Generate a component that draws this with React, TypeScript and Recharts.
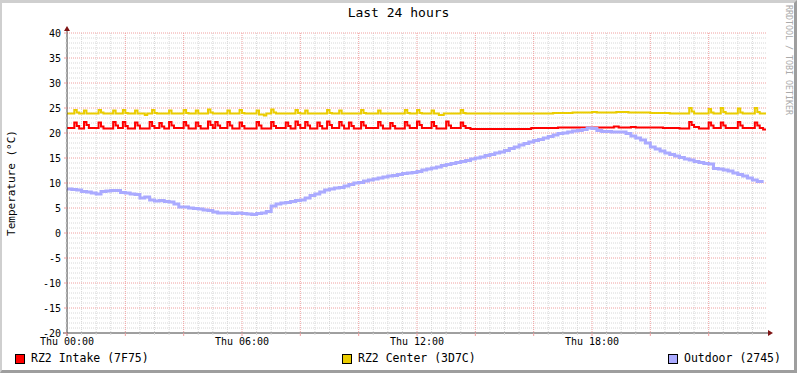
import React from 'react'
import { LineChart, Line, XAxis, YAxis, CartesianGrid, ReferenceDot } from 'recharts'

// time axis in minutes since Thu 00:00
const xLabelTicks = [0, 360, 720, 1080]
const xLabels = ['Thu 00:00', 'Thu 06:00', 'Thu 12:00', 'Thu 18:00']
const yLabelTicks = [-20, -15, -10, -5, 0, 5, 10, 15, 20, 25, 30, 35, 40]

// RZ2 Intake (7F75): [minute, °C] change points
const intakeSteps: [number, number][] = [
  [0, 21.0], [15, 22.1], [20, 21.4], [25, 20.9],
  [35, 22.2], [40, 21.6], [45, 21.0],
  [65, 22.1], [70, 21.3], [75, 20.9],
  [95, 22.2], [100, 21.5], [105, 21.0],
  [115, 22.2], [120, 21.4], [125, 20.9],
  [140, 22.1], [145, 21.5], [150, 20.9],
  [170, 22.2], [175, 21.4], [180, 21.0],
  [190, 22.0], [195, 21.3], [200, 20.9],
  [210, 22.2], [215, 21.5], [220, 21.0],
  [240, 22.2], [245, 21.5], [250, 20.9],
  [265, 22.1], [270, 21.4], [275, 20.9],
  [290, 22.3], [295, 21.6], [300, 21.0],
  [305, 22.2], [310, 21.5], [315, 21.0],
  [330, 22.2], [335, 21.5], [340, 20.9],
  [355, 22.1], [360, 21.4], [365, 20.9],
  [390, 22.2], [395, 21.5], [400, 20.9],
  [420, 22.2], [425, 21.4], [430, 21.0],
  [450, 22.1], [455, 21.4], [460, 20.9],
  [470, 22.3], [475, 21.6], [480, 21.0],
  [490, 22.2], [495, 21.5], [500, 20.9],
  [515, 22.1], [520, 21.4], [525, 20.9],
  [535, 22.3], [540, 21.6], [545, 21.0],
  [560, 22.2], [565, 21.5], [570, 20.9],
  [580, 22.1], [585, 21.4], [590, 20.9],
  [605, 22.2], [610, 21.5], [615, 21.0],
  [640, 22.2], [645, 21.5], [650, 20.9],
  [665, 22.0], [670, 21.4], [675, 20.9],
  [695, 22.2], [700, 21.5], [705, 21.0],
  [720, 22.3], [725, 21.6], [730, 21.0],
  [750, 22.2], [755, 21.4], [760, 20.9],
  [780, 22.3], [785, 21.5], [790, 21.0],
  [810, 22.1], [815, 21.4], [820, 21.0], [830, 20.8],
  [955, 21.0], [1010, 21.1], [1125, 21.3], [1135, 21.1], [1160, 21.2], [1170, 21.1],
  [1226, 21.0], [1260, 20.9],
  [1280, 22.2], [1285, 21.6], [1290, 21.2], [1300, 20.9],
  [1320, 22.1], [1325, 21.5], [1330, 21.0],
  [1345, 22.1], [1350, 21.5], [1355, 21.0],
  [1380, 22.2], [1385, 21.5], [1390, 21.0],
  [1415, 22.1], [1420, 21.5], [1425, 21.0], [1432, 20.7], [1438, 20.7],
]

// RZ2 Center (3D7C)
const centerSteps: [number, number][] = [
  [0, 23.9], [15, 24.6], [20, 24.1], [25, 23.9],
  [35, 24.5], [40, 23.9],
  [65, 24.6], [70, 24.1], [75, 23.9],
  [95, 24.5], [100, 23.9],
  [115, 24.6], [120, 24.0], [125, 23.9],
  [140, 24.5], [145, 23.9], [160, 23.6], [165, 23.9],
  [175, 24.6], [180, 24.0], [185, 23.9],
  [210, 24.5], [215, 23.9],
  [240, 24.6], [245, 24.0], [250, 23.9],
  [265, 24.5], [270, 23.9],
  [290, 24.7], [295, 24.1], [300, 23.9],
  [330, 24.5], [335, 23.9],
  [355, 24.6], [360, 24.0], [365, 23.9],
  [390, 24.5], [395, 23.7], [405, 23.5], [410, 23.9],
  [420, 24.7], [425, 24.1], [430, 23.9],
  [470, 24.6], [475, 24.0], [480, 23.9],
  [490, 24.5], [495, 23.9],
  [535, 24.6], [540, 24.0], [545, 23.9],
  [560, 24.5], [565, 23.9],
  [605, 24.6], [610, 24.0], [615, 23.9],
  [640, 24.5], [645, 23.9],
  [695, 24.6], [700, 24.0], [705, 23.9],
  [720, 24.6], [725, 24.0], [730, 23.9],
  [750, 24.5], [755, 23.9],
  [765, 23.6], [775, 23.9],
  [810, 24.6], [815, 24.0], [820, 23.9],
  [1000, 24.0], [1040, 24.1], [1080, 24.2], [1090, 24.1], [1130, 24.2], [1155, 24.1],
  [1200, 24.0], [1240, 23.9],
  [1280, 25.0], [1285, 24.3], [1290, 23.9],
  [1320, 24.8], [1325, 24.1], [1330, 23.9],
  [1345, 25.0], [1350, 24.2], [1355, 23.9],
  [1380, 24.9], [1385, 24.1], [1390, 23.9],
  [1415, 25.0], [1420, 24.2], [1425, 23.9], [1438, 23.9],
]

// Outdoor (2745), one reading every 10 minutes from 00:00
const outdoorVals = [
  8.8, 8.7, 8.6, 8.3, 8.2, 8.0, 7.8, 8.3, 8.4, 8.5,
  8.5, 8.1, 8.0, 7.8, 7.7, 7.0, 7.2, 6.6, 6.4, 6.5,
  6.3, 6.2, 5.8, 5.2, 5.2, 5.0, 4.9, 4.8, 4.6, 4.5,
  4.2, 4.0, 4.0, 4.0, 3.9, 4.0, 3.9, 3.8, 3.7, 3.9,
  4.0, 4.3, 5.4, 5.8, 6.0, 6.1, 6.3, 6.5, 6.6, 7.0,
  7.5, 7.8, 8.2, 8.6, 8.8, 9.0, 9.1, 9.4, 9.7, 10.0,
  10.1, 10.4, 10.6, 10.8, 11.0, 11.2, 11.4, 11.5, 11.7, 11.9,
  12.0, 12.1, 12.3, 12.6, 12.8, 13.0, 13.2, 13.5, 13.7, 13.9,
  14.1, 14.3, 14.5, 14.8, 15.0, 15.2, 15.5, 15.7, 16.0, 16.2,
  16.5, 16.9, 17.2, 17.6, 17.9, 18.2, 18.5, 18.7, 19.0, 19.3,
  19.6, 19.9, 20.0, 20.2, 20.4, 20.5, 20.7, 21.0, 20.9, 20.5,
  20.3, 20.3, 20.2, 20.2, 20.2, 19.9, 19.4, 19.0, 18.6, 18.0,
  17.2, 16.8, 16.4, 16.0, 15.7, 15.4, 15.1, 14.8, 14.6, 14.3,
  14.1, 13.9, 13.8, 12.9, 12.8, 12.6, 12.4, 12.0, 11.7, 11.4,
  11.0, 10.6, 10.3, 10.0,
]

const series = [
  { name: 'RZ2 Intake (7F75)', color: '#FF0000' },
  { name: 'RZ2 Center (3D7C)', color: '#EACC00' },
  { name: 'Outdoor (2745)', color: '#AAAAFF' },
]

const intakeData = intakeSteps.map(([t, v]) => ({ t, v }))
const centerData = centerSteps.map(([t, v]) => ({ t, v }))
const outdoorData = outdoorVals.map((v, i) => ({ t: i * 10, v }))

// grid: minor every 30 min / 1 °C, major every 2 h / 5 °C
const xMinor: number[] = []
const xMajor: number[] = []
for (let m = 30; m < 1440; m += 30) (m % 120 === 0 ? xMajor : xMinor).push(m)
const yMinor: number[] = []
const yMajor: number[] = []
for (let d = -19; d <= 40; d++) (d % 5 === 0 ? yMajor : yMinor).push(d)
const xAxisTicks = [0, ...xMinor, ...xMajor].sort((a, b) => a - b)
const yAxisTicks: number[] = []
for (let d = -20; d <= 40; d++) yAxisTicks.push(d)

const FONT = '"DejaVu Sans Mono", monospace'
const AXIS = '#404040'
const ARROW = '#7f1414'
const MINOR = '#d8d8d8'
const MAJOR = '#f0a0a0'

// recharts 3 may hand the grid generator either a d3 scale or a wrapper with .map
const scaleOf = (axis: any) => (v: number) => {
  const s = axis?.scale
  if (typeof s === 'function') return s(v)
  if (s && typeof s.map === 'function') return s.map(v)
  if (s && typeof s.scale === 'function') return s.scale(v)
  return NaN
}

const XTick = (p: any) => {
  const v = p.payload.value
  const idx = xLabelTicks.indexOf(v)
  const major = v % 120 === 0
  return (
    <g>
      <line x1={p.x} x2={p.x} y1={p.y} y2={p.y + (major ? 3 : 2)} stroke={major ? MAJOR : MINOR} />
      {idx >= 0 && (
        <text x={p.x} y={p.y + 12} textAnchor="middle" fontSize={10} fontFamily={FONT} fill="#000">
          {xLabels[idx]}
        </text>
      )}
    </g>
  )
}

const YTick = (p: any) => {
  const v = p.payload.value
  const major = yLabelTicks.includes(v)
  return (
    <g>
      <line x1={p.x - (major ? 3 : 2)} x2={p.x} y1={p.y} y2={p.y} stroke={major ? MAJOR : MINOR} />
      {major && (
        <text x={p.x - 6} y={p.y} dy="0.35em" textAnchor="end" fontSize={10} fontFamily={FONT} fill="#000">
          {v}
        </text>
      )}
    </g>
  )
}

const UpArrow = (p: any) => (
  <g>
    <line x1={p.cx} x2={p.cx} y1={p.cy} y2={p.cy - 2} stroke={AXIS} />
    <polygon points={`${p.cx - 3},${p.cy - 2} ${p.cx + 3},${p.cy - 2} ${p.cx},${p.cy - 7}`} fill={ARROW} />
  </g>
)

const RightArrow = (p: any) => (
  <g>
    <line x1={p.cx} x2={p.cx + 1} y1={p.cy} y2={p.cy} stroke={AXIS} />
    <polygon points={`${p.cx + 1},${p.cy - 3} ${p.cx + 1},${p.cy + 3} ${p.cx + 6},${p.cy}`} fill={ARROW} />
  </g>
)

const Corner = (p: any) => (
  <g>
    <line x1={p.cx - 4} x2={p.cx} y1={p.cy} y2={p.cy} stroke={AXIS} />
    <line x1={p.cx} x2={p.cx} y1={p.cy} y2={p.cy + 3} stroke={AXIS} />
  </g>
)

export default function App() {
  return (
    <div style={{ position: 'absolute', left: 0, top: 0, width: 797, height: 373, background: '#fff', fontFamily: FONT }}>
      <LineChart width={797} height={373} margin={{ top: 33, right: 30, bottom: 0, left: 0 }}>
        <CartesianGrid
          stroke={MINOR}
          strokeDasharray="1 1"
          horizontalCoordinatesGenerator={({ yAxis }: any) => yMinor.map(scaleOf(yAxis))}
          verticalCoordinatesGenerator={({ xAxis }: any) => xMinor.map(scaleOf(xAxis))}
        />
        <CartesianGrid
          stroke={MAJOR}
          strokeDasharray="1 1"
          horizontalCoordinatesGenerator={({ yAxis }: any) => yMajor.map(scaleOf(yAxis))}
          verticalCoordinatesGenerator={({ xAxis }: any) => xMajor.map(scaleOf(xAxis))}
        />
        <XAxis
          dataKey="t"
          type="number"
          domain={[0, 1440]}
          allowDataOverflow
          ticks={xAxisTicks}
          interval={0}
          height={40}
          tickSize={0}
          tickMargin={0}
          tickLine={false}
          axisLine={{ stroke: AXIS }}
          tick={XTick}
        />
        <YAxis
          type="number"
          domain={[-20, 40]}
          allowDataOverflow
          ticks={yAxisTicks}
          interval={0}
          width={67}
          tickSize={0}
          tickMargin={0}
          tickLine={false}
          axisLine={{ stroke: AXIS }}
          tick={YTick}
        />
        <Line data={intakeData} dataKey="v" type="stepAfter" stroke={series[0].color} strokeWidth={2} dot={false} isAnimationActive={false} />
        <Line data={centerData} dataKey="v" type="stepAfter" stroke={series[1].color} strokeWidth={2} dot={false} isAnimationActive={false} />
        <Line data={outdoorData} dataKey="v" type="stepAfter" stroke={series[2].color} strokeWidth={3} dot={false} isAnimationActive={false} />
        <ReferenceDot x={0} y={40} r={0} ifOverflow="visible" shape={UpArrow} />
        <ReferenceDot x={1440} y={-20} r={0} ifOverflow="visible" shape={RightArrow} />
        <ReferenceDot x={0} y={-20} r={0} ifOverflow="visible" shape={Corner} />
      </LineChart>

      <div style={{ position: 'absolute', left: 0, top: 5, width: 797, textAlign: 'center', fontSize: 13, lineHeight: '16px', color: '#000' }}>
        Last 24 hours
      </div>
      <div
        style={{
          position: 'absolute', left: 11, top: 183, transform: 'translate(-50%, -50%) rotate(-90deg)',
          fontSize: 11, whiteSpace: 'nowrap', color: '#000',
        }}
      >
        Temperature (°C)
      </div>
      <div
        style={{
          position: 'absolute', left: 789, top: 60, transform: 'translate(-50%, -50%) rotate(90deg)',
          fontSize: 8.3, whiteSpace: 'nowrap', color: '#aaa',
        }}
      >
        RRDTOOL / TOBI OETIKER
      </div>
      {series.map((s, i) => (
        <div
          key={s.name}
          style={{
            position: 'absolute', top: 352, left: [15, 342, 668][i], display: 'flex', alignItems: 'center',
            fontSize: 11.5, lineHeight: '13px', whiteSpace: 'nowrap', color: '#000',
          }}
        >
          <span style={{ width: 8, height: 8, border: '1px solid #000', background: s.color, marginRight: 6 }} />
          {s.name}
        </div>
      ))}
      <div
        style={{
          position: 'absolute', left: 0, top: 0, width: 797, height: 373, boxSizing: 'border-box', pointerEvents: 'none',
          borderTop: '3px solid #cfcfcf', borderLeft: '2px solid #cfcfcf',
          borderBottom: '3px solid #9e9e9e', borderRight: '3px solid #9e9e9e',
        }}
      />
    </div>
  )
}
